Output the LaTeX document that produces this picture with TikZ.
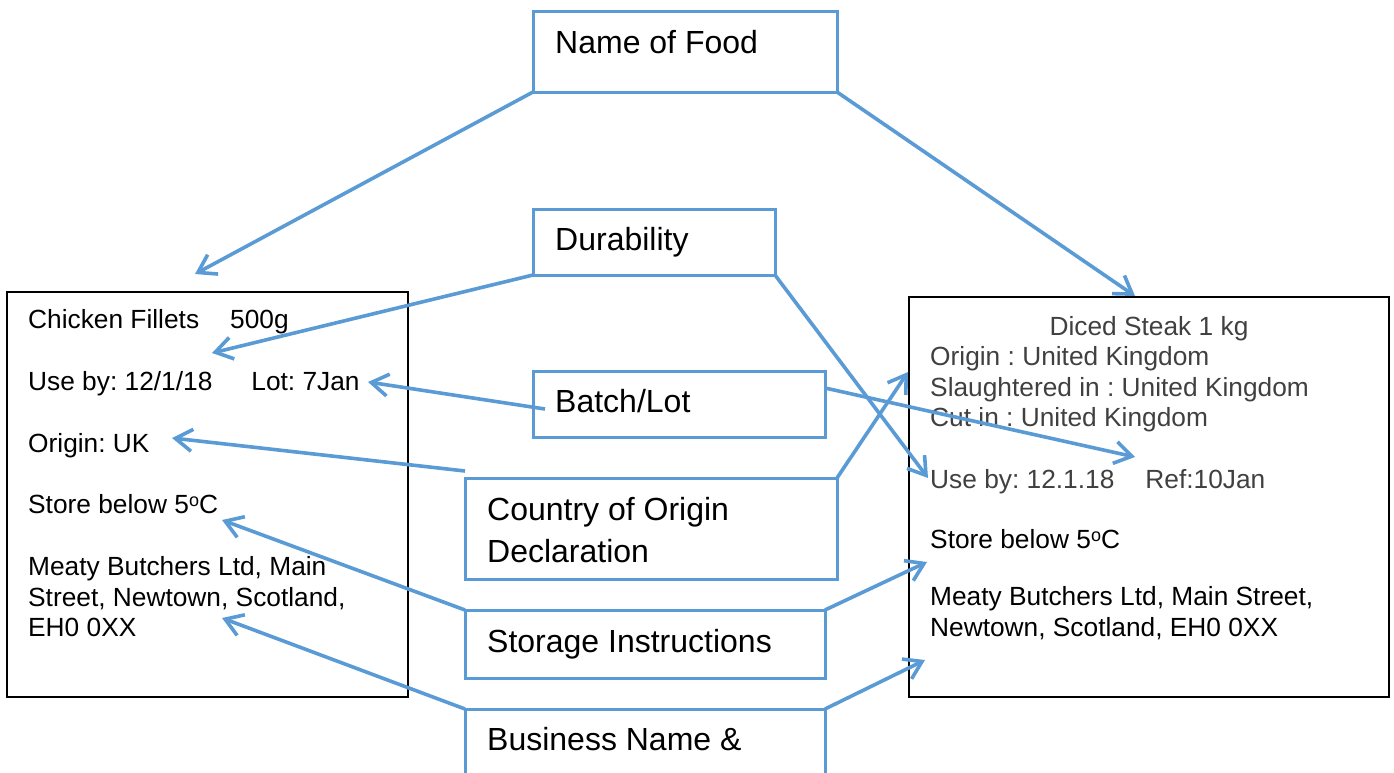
\documentclass[tikz,border=0pt]{standalone}
\usepackage{fontspec}
\setmainfont{Liberation Sans}
\usetikzlibrary{arrows.meta,calc}
\definecolor{tagblue}{RGB}{91,155,213}
\definecolor{inkgrey}{RGB}{64,64,64}
\frenchspacing
\newcommand{\degsup}{\raisebox{7pt}{\fontsize{18}{18}\selectfont o}}

\tikzset{
    tagbox/.style={draw=tagblue, line width=3pt, inner sep=0pt, outer sep=0pt, anchor=north west},
    labelbox/.style={draw=black, line width=2.2pt, inner sep=0pt, outer sep=0pt, anchor=north west},
    tagtext/.style={anchor=base west, inner sep=0pt, font=\fontsize{32}{41}\selectfont},
    labeltext/.style={anchor=base west, inner sep=0pt, font=\fontsize{26.3}{30.5}\selectfont},
    pointer/.style={draw=tagblue, line width=3.6pt, -{Straight Barb[length=17pt,width=22pt]}}
}

\begin{document}
\begin{tikzpicture}[x=1pt, y=-1pt]
    \clip (0,0) rectangle (1394,772);

    % Tag boxes (middle column)
    \node[tagbox, minimum width=304pt, minimum height=81pt] (food) at (533,11) {};
    \node[tagtext] (foodtxt) at (555,53) {Name of Food};
    \node[tagbox, minimum width=242pt, minimum height=66pt] (dur) at (533,209) {};
    \node[tagtext] (durtxt) at (555,250) {Durability};
    \node[tagbox, minimum width=292pt, minimum height=66pt] (batch) at (533,371) {};
    \node[tagtext] (batchtxt) at (555,412) {Batch/Lot};
    \node[tagbox, minimum width=372pt, minimum height=101pt] (country) at (465,478) {};
    \node[tagtext] (countrytxt) at (487,520) {Country of Origin};
    \node[tagtext] (countrytxtb) at (487,562) {Declaration};
    \node[tagbox, minimum width=360pt, minimum height=68pt] (storage) at (465,610) {};
    \node[tagtext] (storagetxt) at (487,652) {Storage Instructions};
    \node[tagbox, minimum width=360pt, minimum height=110pt] (business) at (465,709) {};
    \node[tagtext] (businesstxt) at (487,750) {Business Name \&};

    % Chicken label
    \node[labelbox, minimum width=401pt, minimum height=405pt] (chicken) at (7,292) {};
    \foreach \y/\txt [count=\i] in {328/{Chicken Fillets\hspace{31pt}500g},
                                    390/{Use by: 12/1/18\hspace{39pt}Lot: 7Jan},
                                    452/{Origin: UK},
                                    513/{Store below 5\degsup C},
                                    575/{Meaty Butchers Ltd, Main},
                                    606/{Street, Newtown, Scotland,},
                                    636/{EH0 0XX}} {
        \node[labeltext] (chickenline\i) at (28,\y) {\txt};
    }

    % Steak label
    \node[labelbox, minimum width=480pt, minimum height=400pt] (steak) at (909,297) {};
    \node[labeltext, anchor=base, text=inkgrey] (steakline0) at (1149,335) {Diced Steak 1 kg};
    \foreach \y/\col/\txt [count=\i] in {365/inkgrey/{Origin : United Kingdom},
                                         396/inkgrey/{Slaughtered in : United Kingdom},
                                         426/inkgrey/{Cut in : United Kingdom},
                                         488/inkgrey/{Use by: 12.1.18\hspace{31pt}Ref:10Jan},
                                         548/black/{Store below 5\degsup C},
                                         605/black/{Meaty Butchers Ltd, Main Street,},
                                         636/black/{Newtown, Scotland, EH0 0XX}} {
        \node[labeltext, text=\col] (steakline\i) at (930,\y) {\txt};
    }

    % Arrow ends
    \coordinate (nameL) at (195,274);
    \coordinate (nameR) at (1135,296);
    \coordinate (durL) at (212,353);
    \coordinate (durR) at (928,478);
    \coordinate (lotL) at (368,382);
    \coordinate (lotR) at (1135,457);
    \coordinate (origL) at (172,438);
    \coordinate (origR) at (908,372);
    \coordinate (storeL) at (222,520);
    \coordinate (storeR) at (927,562);
    \coordinate (busL) at (222,618);
    \coordinate (busR) at (925,660);
    \coordinate (batchW) at ($(batch.west)+(12,5)$);
    \coordinate (batchE) at ($(batch.east)+(0,-16)$);
    \coordinate (countryNW) at ($(country.north west)+(0,-7)$);

    % Pointers
    \foreach \from/\to in {food.south west/nameL, food.south east/nameR,
                           dur.south west/durL, dur.south east/durR,
                           batchW/lotL, batchE/lotR,
                           countryNW/origL, country.north east/origR,
                           storage.north west/storeL, storage.north east/storeR,
                           business.north west/busL, business.north east/busR} {
        \draw[pointer] (\from) -- (\to);
    }
\end{tikzpicture}
\end{document}
